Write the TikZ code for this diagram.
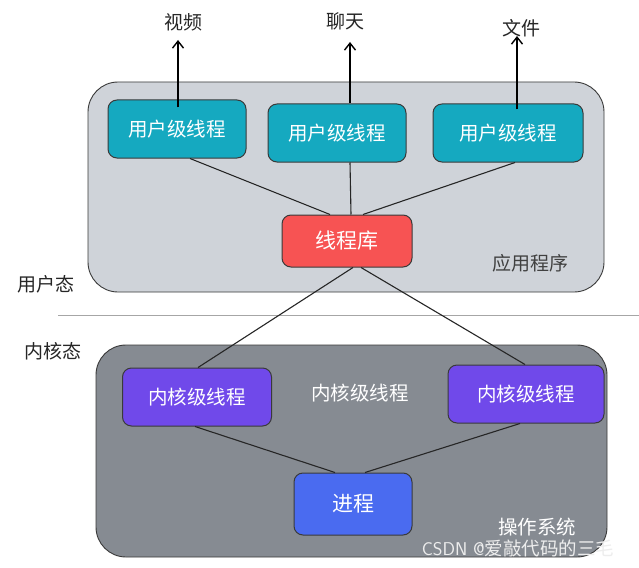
\documentclass[tikz,border=0pt]{standalone}
\usepackage{fontspec}
\newfontfamily\cjk{Noto Sans CJK SC}
\usetikzlibrary{arrows.meta,calc}
\definecolor{appbg}{HTML}{CFD3D9}
\definecolor{osbg}{HTML}{868B92}
\definecolor{teal}{HTML}{15A9C0}
\definecolor{libred}{HTML}{F75353}
\definecolor{kpurple}{HTML}{7049EA}
\definecolor{pblue}{HTML}{4A6BF0}
\definecolor{edge}{HTML}{3A3A3A}
\tikzset{
  region/.style={draw=edge, line width=0.9pt, rounded corners=30pt},
  box/.style={draw=edge, line width=1pt, rounded corners=9pt, text=white,
              font=\cjk\fontsize{19.5}{20}\selectfont, inner sep=0pt},
  ubox/.style={box, fill=teal, minimum height=58pt},
  kbox/.style={box, fill=kpurple, minimum height=58pt},
  conn/.style={draw=black!85, line width=1.1pt},
  up/.style={draw=black, line width=1.4pt, -{Straight Barb[length=7pt,width=11pt,line width=1.4pt]}},
  lab/.style={font=\cjk\fontsize{19}{20}\selectfont, text=black!85, inner sep=0pt},
  wlab/.style={font=\cjk\fontsize{19.5}{20}\selectfont, text=white, inner sep=0pt},
}
\begin{document}
\begin{tikzpicture}[x=1pt,y=-1pt]
\useasboundingbox (0,0) rectangle (639,567);
\fill[white] (0,0) rectangle (639,567);

% regions
\path[region, fill=appbg] (88,82) rectangle (604,292);
\path[region, fill=osbg] (96,345) rectangle (607,557);

% separator
\draw[gray!70, line width=1.6pt] (58,316) -- (639,316);
\draw[white, line width=0.3pt] (58,316) -- (639,316);

% nodes
\node[ubox, minimum width=138pt] (b1) at (177,129) {用户级线程};
\node[ubox, minimum width=138pt] (b2) at (337,133) {用户级线程};
\node[ubox, minimum width=150pt] (b3) at (508,133) {用户级线程};
\node[box, fill=libred, minimum width=130pt, minimum height=52pt, font=\cjk\fontsize{21}{22}\selectfont] (lib) at (347,241) {线程库};
\node[kbox, minimum width=149pt] (k1) at (197,397) {内核级线程};
\node[kbox, minimum width=156pt] (k2) at (526,394) {内核级线程};
\node[box, fill=pblue, minimum width=118pt, minimum height=62pt, font=\cjk\fontsize{21}{22}\selectfont] (proc) at (353,504) {进程};

% labels
\node[lab] (l1) at (183,22) {视频};
\node[lab] (l2) at (345,21) {聊天};
\node[lab] (l3) at (521,28) {文件};
\node[lab] (uapp) at (46,284) {用户态};
\node[lab] (ukern) at (53,351) {内核态};
\node[lab, text=black!75] (app) at (530,263) {应用程序};
\node[wlab] (kmid) at (360,393) {内核级线程};
\node[wlab] (os) at (537,527) {操作系统};
\node[font=\sffamily\fontsize{18.5}{19}\selectfont, text=white!86!gray, inner sep=0pt] (wm) at (518,548) {CSDN @{\cjk 爱敲代码的三毛}};

% arrow ends
\coordinate (t1) at (178,40);
\coordinate (t2) at (350,42);
\coordinate (t3) at (517,36);

% arrows
\draw[up] ([xshift=1pt,yshift=-8pt]b1.north) -- (t1);
\draw[up] ([xshift=13pt]b2.north) -- (t2);
\draw[up] ([xshift=9pt,yshift=-6pt]b3.north) -- (t3);

% connectors
\draw[conn] ([xshift=13pt]b1.south) -- ([xshift=-17pt]lib.north);
\draw[conn] ([xshift=13pt]b2.south) -- ([xshift=4pt]lib.north);
\draw[conn] ([xshift=7pt]b3.south) -- ([xshift=16pt]lib.north);
\draw[conn] ([xshift=6pt]lib.south) -- ([xshift=1pt]k1.north);
\draw[conn] ([xshift=14pt]lib.south) -- ([xshift=-1pt]k2.north);
\draw[conn] ([xshift=-2pt]k1.south) -- ([xshift=-18pt]proc.north);
\draw[conn] ([xshift=-6pt]k2.south) -- ([xshift=12pt]proc.north);
\end{tikzpicture}
\end{document}
